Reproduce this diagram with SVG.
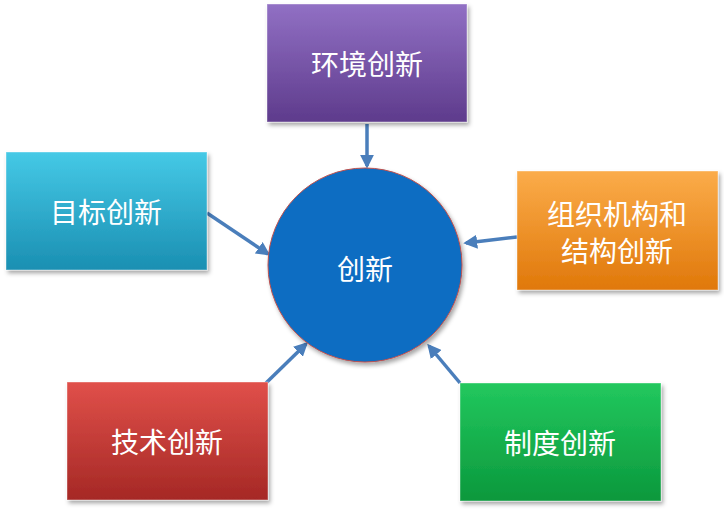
<svg xmlns="http://www.w3.org/2000/svg" width="724" height="511" viewBox="0 0 724 511">
<defs>
<linearGradient id="gP" x1="0" y1="0" x2="0" y2="1"><stop offset="0" stop-color="#9170c4"/><stop offset="1" stop-color="#5e3b8c"/></linearGradient>
<linearGradient id="gC" x1="0" y1="0" x2="0" y2="1"><stop offset="0" stop-color="#45c9e6"/><stop offset="1" stop-color="#1a8fb2"/></linearGradient>
<linearGradient id="gO" x1="0" y1="0" x2="0" y2="1"><stop offset="0" stop-color="#fbac4a"/><stop offset="1" stop-color="#e0780a"/></linearGradient>
<linearGradient id="gR" x1="0" y1="0" x2="0" y2="1"><stop offset="0" stop-color="#e0504a"/><stop offset="1" stop-color="#a52825"/></linearGradient>
<linearGradient id="gG" x1="0" y1="0" x2="0" y2="1"><stop offset="0" stop-color="#22c85e"/><stop offset="1" stop-color="#0b983c"/></linearGradient>
<filter id="sh" x="-10%" y="-10%" width="130%" height="130%"><feDropShadow dx="2" dy="3" stdDeviation="2" flood-color="#000" flood-opacity="0.35"/></filter>
<marker id="ar" viewBox="0 0 10 10" refX="8" refY="5" markerWidth="4" markerHeight="4" orient="auto"><path d="M0,0 L10,5 L0,10 z" fill="#4a7ebb"/></marker>
</defs>
<style>
.box{filter:url(#sh);stroke:#ffffff;stroke-opacity:0.4;stroke-width:1}
.t{fill:#fff;font-family:"Noto Sans CJK SC",sans-serif;font-size:28px;text-anchor:middle}
.c line{stroke:#4a7ebb;stroke-width:3.5;marker-end:url(#ar)}
</style>
<g class="c">
<line x1="367" y1="124" x2="367" y2="166"/>
<line x1="207" y1="213" x2="268" y2="254"/>
<line x1="517" y1="237" x2="466" y2="243"/>
<line x1="266" y1="383" x2="306" y2="344"/>
<line x1="460" y1="383" x2="429" y2="346"/>
</g>
<g id="center"><circle cx="365" cy="265" r="97" fill="#0b6dc2" stroke="#c0504d" stroke-width="1" filter="url(#sh)"/><text class="t" x="365" y="280" font-size="40">创新</text></g>
<g id="env"><rect class="box" x="267" y="4" width="200" height="118" fill="url(#gP)"/><text class="t" x="367" y="75">环境创新</text></g>
<g id="goal"><rect class="box" x="6" y="152" width="201" height="118" fill="url(#gC)"/><text class="t" x="106" y="223">目标创新</text></g>
<g id="org"><rect class="box" x="517" y="171" width="201" height="119" fill="url(#gO)"/><text class="t" x="617" y="225">组织机构和</text><text class="t" x="617" y="262">结构创新</text></g>
<g id="tech"><rect class="box" x="67" y="382" width="201" height="118" fill="url(#gR)"/><text class="t" x="167" y="453">技术创新</text></g>
<g id="inst"><rect class="box" x="460" y="383" width="201" height="118" fill="url(#gG)"/><text class="t" x="560" y="454">制度创新</text></g>
</svg>
